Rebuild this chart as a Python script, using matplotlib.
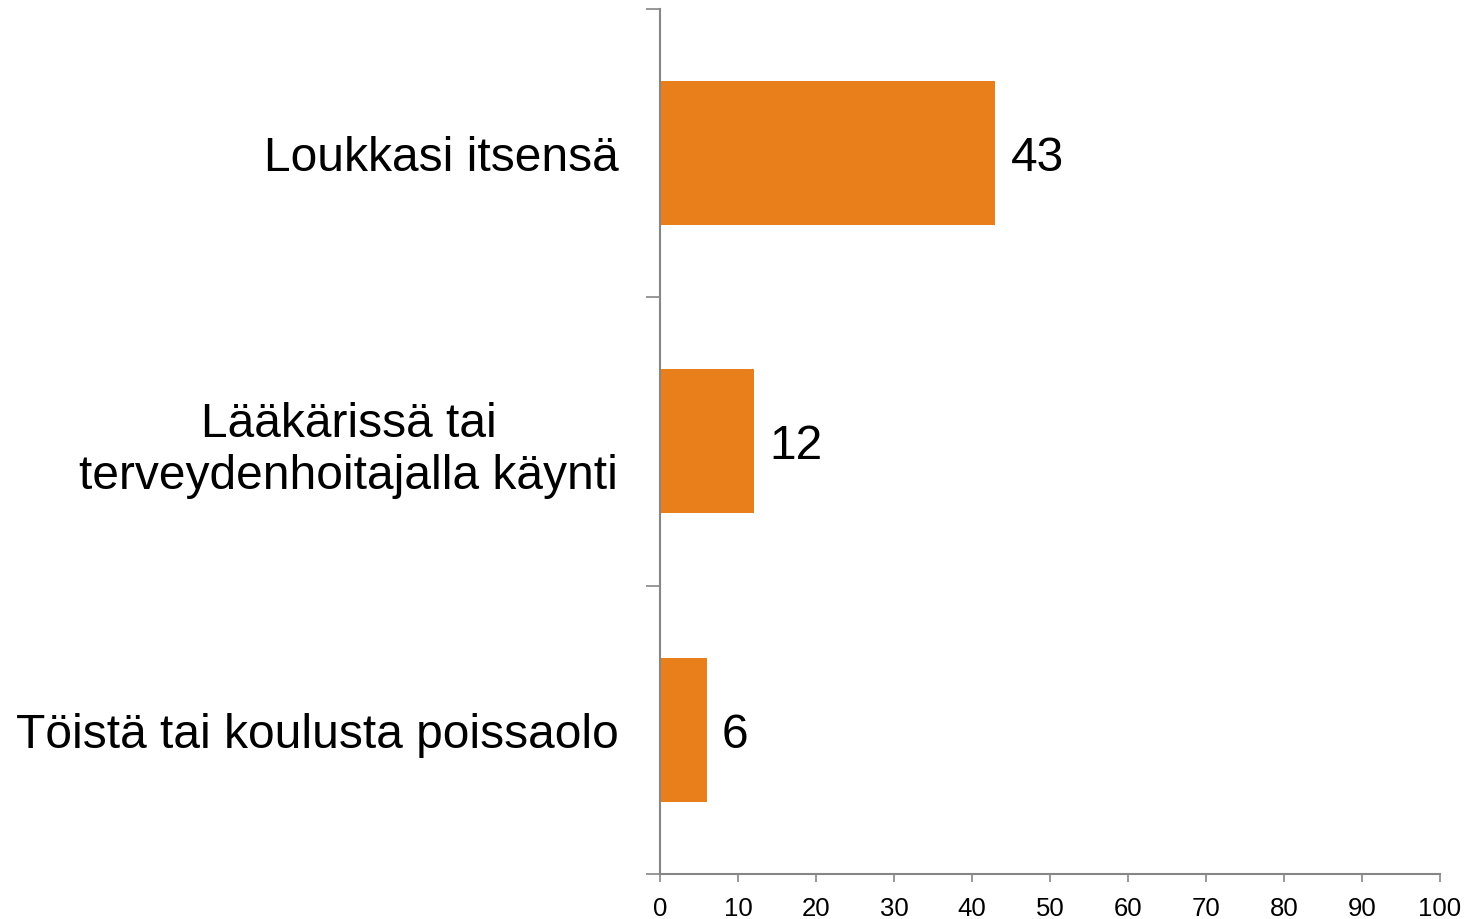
import matplotlib
matplotlib.use("Agg")
import matplotlib.pyplot as plt
import numpy as np

categories = ["Loukkasi itsensä",
              "Lääkärissä tai\nterveydenhoitajalla käynti",
              "Töistä tai koulusta poissaolo"]
values = [43, 12, 6]
xticks = [0, 10, 20, 30, 40, 50, 60, 70, 80, 90, 100]

plt.rcParams['font.family'] = ['Liberation Sans', 'DejaVu Sans']

FS = 34.5
fig = plt.figure(figsize=(14.68, 9.2), dpi=100)
ax = fig.add_axes([660/1468, 1-875/920, 780/1468, (875-9.5)/920])

ypos = np.arange(len(categories))
bars = ax.barh(ypos, values, height=0.5, color='#E97F1A', edgecolor='none')

cap = 0.716 * FS
for y, v in zip(ypos, values):
    ax.annotate(str(v), xy=(v, y), xytext=(11, -cap / 2), textcoords='offset points',
                va='baseline', ha='left', fontsize=FS, color='black')

ax.set_xlim(0, 100)
ax.set_ylim(len(categories) - 0.5, -0.5)
ax.set_xticks(xticks)
ax.set_xticklabels([str(t) for t in xticks], fontsize=18.5)

ax.set_yticks(np.arange(-0.5, len(categories), 1.0))
ax.set_yticklabels([])
ax.set_yticks(ypos, minor=True)
ax.set_yticklabels(categories, minor=True, fontsize=FS, ha='right', multialignment='center')

spine_c = '#868686'
for s in ['top', 'right']:
    ax.spines[s].set_visible(False)
for s in ['left', 'bottom']:
    ax.spines[s].set_color(spine_c)
    ax.spines[s].set_linewidth(1.5)

ax.tick_params(axis='y', which='major', length=10, width=1.2, color=spine_c)
ax.tick_params(axis='y', which='minor', length=0, pad=30)
ax.tick_params(axis='x', which='major', length=6, width=1.2, color=spine_c, pad=9.5)

fig.savefig("out.png", dpi=100, facecolor='white')
